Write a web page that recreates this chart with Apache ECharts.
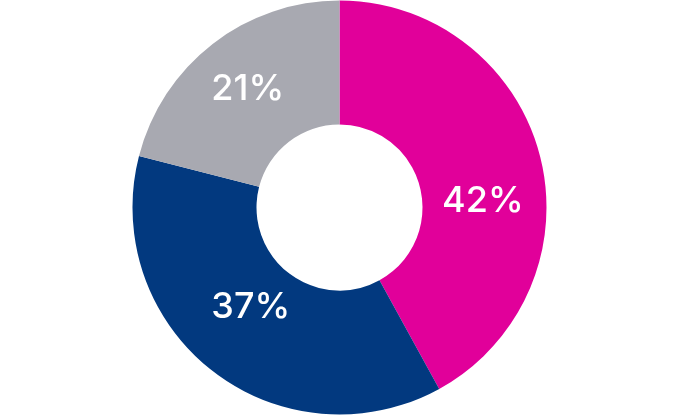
<!DOCTYPE html>
<html>
<head>
<meta charset="utf-8">
<script src="https://cdn.jsdelivr.net/npm/echarts@6/dist/echarts.min.js"></script>
<style>
html,body{margin:0;padding:0;background:#fff;}
#c{width:680px;height:416px;}
</style>
</head>
<body>
<div id="c"></div>
<script>
const categories = ['A', 'B', 'C'];
const values = [42, 37, 21];
const colors = ['#E1009A', '#02397F', '#A8A9B1'];
const labelOffsets = [[0, 30], [2, -17], [-1, -1]];

const chart = echarts.init(document.getElementById('c'), null, {renderer: 'canvas'});
chart.setOption({
  animation: false,
  series: [{
    type: 'pie',
    center: [339.5, 207.5],
    radius: [83, 207],
    startAngle: 90,
    clockwise: true,
    silent: true,
    label: {
      show: true,
      position: 'inside',
      color: '#fff',
      fontFamily: 'Inter',
      fontSize: 36,
      fontWeight: 500,
      formatter: p => p.value + '%'
    },
    labelLine: {show: false},
    data: categories.map((c, i) => ({
      name: c,
      value: values[i],
      itemStyle: {color: colors[i]},
      label: {offset: labelOffsets[i]}
    }))
  }]
});
</script>
</body>
</html>
